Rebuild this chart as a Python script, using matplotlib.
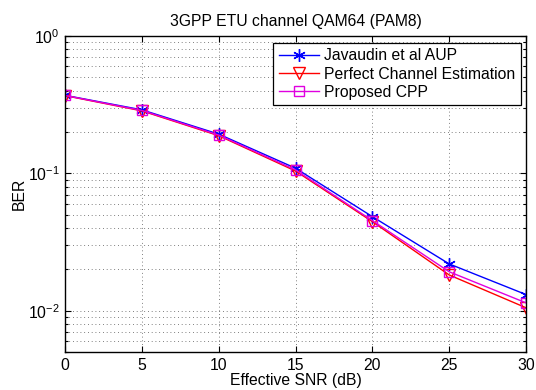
import matplotlib
matplotlib.use("Agg")
import matplotlib.pyplot as plt
from matplotlib.ticker import LogLocator, NullFormatter

plt.rcParams['font.family'] = ['Liberation Sans', 'DejaVu Sans']
plt.rcParams['mathtext.fontset'] = 'custom'
plt.rcParams['mathtext.rm'] = 'Liberation Sans'
plt.rcParams['mathtext.it'] = 'Liberation Sans:italic'
plt.rcParams['mathtext.bf'] = 'Liberation Sans:bold'

snr = [0, 5, 10, 15, 20, 25, 30]
ber_javaudin = [0.370, 0.290, 0.193, 0.109, 0.0484, 0.0219, 0.0131]
ber_perfect = [0.368, 0.285, 0.188, 0.104, 0.0445, 0.0182, 0.0105]
ber_cpp = [0.369, 0.287, 0.190, 0.106, 0.0453, 0.0192, 0.0114]

title = "3GPP ETU channel QAM64 (PAM8)"
xlabel = "Effective SNR (dB)"
ylabel = "BER"
labels = ["Javaudin et al AUP", "Perfect Channel Estimation", "Proposed CPP"]

FS = 11.3

fig = plt.figure(figsize=(5.36, 3.90), dpi=100)
ax = fig.add_axes([65/536, 38/390, 461/536, 316/390])

ax.plot(snr, ber_javaudin, color='#0000ff', lw=1.0, marker=(6, 2, 0), ms=9,
        mew=1.0, label=labels[0])
ax.plot(snr, ber_perfect, color='#ff0000', lw=1.0, marker='v', ms=8.5,
        mfc='none', mew=1.0, label=labels[1])
ax.plot(snr, ber_cpp, color='#e000e0', lw=1.0, marker='s', ms=7,
        mfc='none', mew=1.0, label=labels[2])

ax.set_yscale('log')
ax.set_xlim(0, 30)
ax.set_ylim(0.005, 1)
ax.set_xticks(snr)
ax.yaxis.set_major_locator(LogLocator(base=10, numticks=10))
ax.yaxis.set_minor_locator(LogLocator(base=10, subs=range(2, 10), numticks=20))
ax.yaxis.set_minor_formatter(NullFormatter())

grid_kw = dict(color='#555555', linestyle=(0, (1, 3.5)), linewidth=0.6)
ax.grid(True, which='major', axis='both', **grid_kw)
ax.grid(True, which='minor', axis='y', **grid_kw)

ax.tick_params(which='both', direction='in', top=True, right=True, labelsize=FS, width=0.8)
ax.tick_params(which='major', length=4, pad=4)
ax.tick_params(which='minor', length=2)
for s in ax.spines.values():
    s.set_linewidth(1.0)

ax.set_title(title, fontsize=FS, pad=7)
ax.set_xlabel(xlabel, fontsize=FS, labelpad=0)
ax.set_ylabel(ylabel, fontsize=FS, labelpad=1)

leg = ax.legend(loc='upper right', bbox_to_anchor=(0.989, 0.978), borderaxespad=0,
                fontsize=FS, fancybox=False, edgecolor='black', framealpha=1,
                handlelength=2.6, handletextpad=0.3, labelspacing=0.2,
                borderpad=0.35)
leg.get_frame().set_linewidth(0.9)

fig.savefig("out.png", dpi=100)
